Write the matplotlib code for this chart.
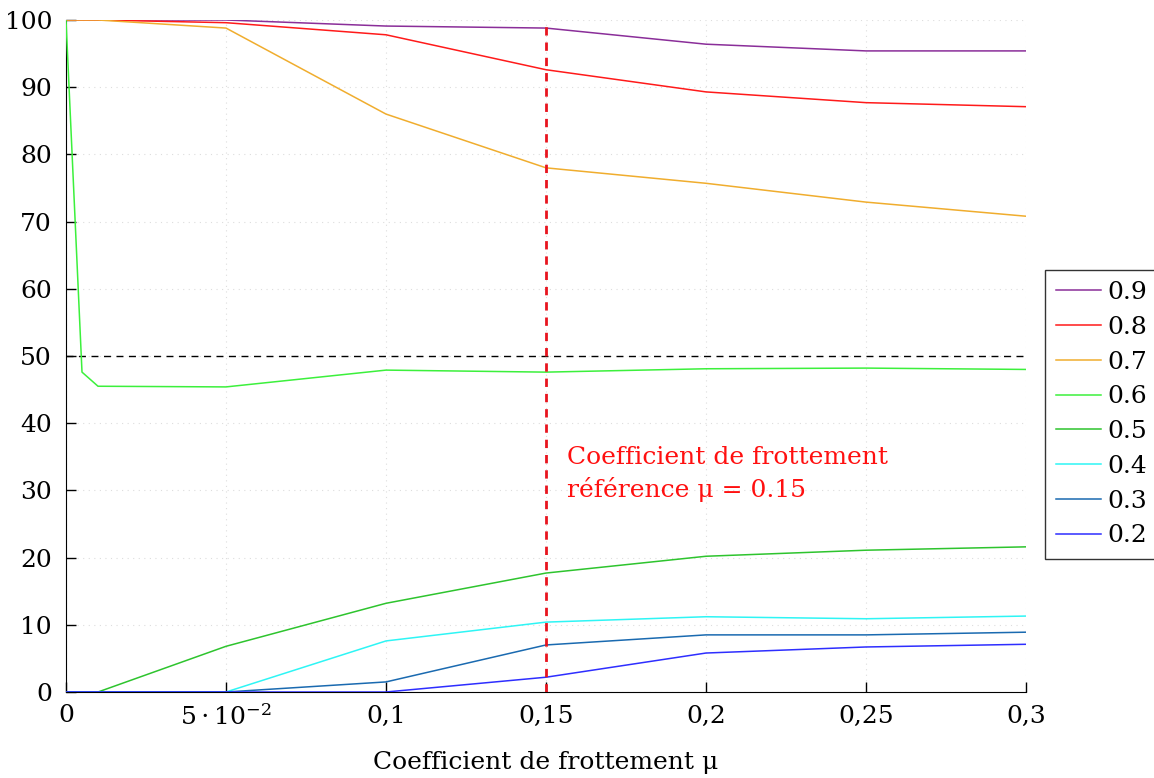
import matplotlib
matplotlib.use("Agg")
import matplotlib.pyplot as plt

mu = [0, 0.005, 0.01, 0.05, 0.1, 0.15, 0.2, 0.25, 0.3]
labels = ["0.9", "0.8", "0.7", "0.6", "0.5", "0.4", "0.3", "0.2"]
s09 = [100, 100, 100, 100, 99.1, 98.8, 96.4, 95.4, 95.4]
s08 = [100, 100, 100, 99.6, 97.8, 92.6, 89.3, 87.7, 87.1]
s07 = [100, 100, 100, 98.8, 86.0, 78.0, 75.7, 72.9, 70.8]
s06 = [100, 47.6, 45.5, 45.4, 47.9, 47.6, 48.1, 48.2, 48.0]
s05 = [0, 0, 0, 6.8, 13.2, 17.7, 20.2, 21.1, 21.6]
s04 = [0, 0, 0, 0, 7.6, 10.4, 11.2, 10.9, 11.3]
s03 = [0, 0, 0, 0, 1.5, 7.0, 8.5, 8.5, 8.9]
s02 = [0, 0, 0, 0, 0, 2.2, 5.8, 6.7, 7.1]
series = [s09, s08, s07, s06, s05, s04, s03, s02]
colors = ["#8a2e99", "#ff1a1a", "#f0ad2e", "#3cf03c", "#2ec42e", "#2ef5f5", "#1a6ab0", "#2e2eff"]

xticks = [0, 0.05, 0.1, 0.15, 0.2, 0.25, 0.3]
xticklabels = ["0", r"$5\cdot10^{-2}$", "0,1", "0,15", "0,2", "0,25", "0,3"]
yticks = list(range(0, 101, 10))
mu_ref = 0.15
threshold = 50

plt.rcParams['font.family'] = ['DejaVu Serif']
plt.rcParams['mathtext.fontset'] = 'dejavuserif'

fig = plt.figure(figsize=(11.54, 7.78), dpi=100)
ax = fig.add_axes([66/1154, 86/778, 960/1154, 672/778])

for s, c, l in zip(series, colors, labels):
    ax.plot(mu, s, color=c, lw=1.1, label=l, zorder=3)

ax.axhline(threshold, color="black", lw=1, ls=(0, (5, 4)), zorder=2)
ax.axvline(mu_ref, color="#e8141e", lw=2, ls=(0, (3, 2.5)), zorder=4)
ax.text(0.1565, 36.6, "Coefficient de frottement\nréférence μ = 0.15", color="#ff1010",
        fontsize=18, va="top", ha="left", linespacing=1.38)

ax.set_xlim(0, 0.3)
ax.set_ylim(0, 100)
ax.set_xticks(xticks)
ax.set_xticklabels(xticklabels)
ax.set_yticks(yticks)
ax.tick_params(direction="in", length=7, labelsize=18, width=1)
ax.tick_params(axis="x", pad=9)
ax.tick_params(axis="y", pad=10)
ax.grid(True, ls=(0, (1, 4)), color="#dddddd", lw=0.8)
for sp in ["top", "right"]:
    ax.spines[sp].set_visible(False)
ax.set_xlabel("Coefficient de frottement μ", fontsize=18, labelpad=15)

leg = ax.legend(loc="upper left", bbox_to_anchor=(1.02, 0.628), borderaxespad=0,
                fontsize=18, frameon=True, fancybox=False, edgecolor="black",
                handlelength=1.8, handletextpad=0.25, labelspacing=0.47, borderpad=0.45)
leg.get_frame().set_linewidth(1)

fig.savefig("out.png", dpi=100)
